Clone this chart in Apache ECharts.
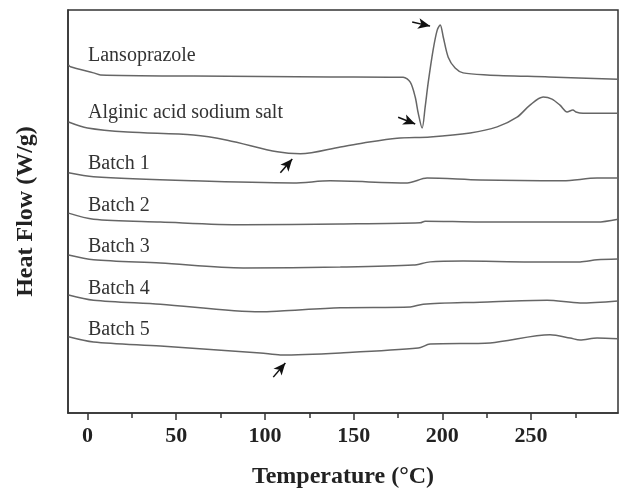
<!DOCTYPE html>
<html>
<head>
<meta charset="utf-8">
<script src="https://cdn.jsdelivr.net/npm/echarts@6/dist/echarts.min.js"></script>
<style>
  html, body { margin: 0; padding: 0; background: #fff; }
  #main { width: 623px; height: 496px; }
</style>
</head>
<body>
<div id="main"></div>
<script>
// x range and ticks
const tempMin = -11, tempMax = 299;
const majorTicks = [0, 50, 100, 150, 200, 250];
const minorTicks = [25, 75, 125, 175, 225, 275];

const curveNames = ['Lansoprazole', 'Alginic acid sodium salt', 'Batch 1', 'Batch 2', 'Batch 3', 'Batch 4', 'Batch 5'];

// [temperature, heat flow (offset, arb. units)]
const lansoprazole = [[-10.7,86.4],[-9.6,85.9],[3.4,84.4],[7.3,83.9],[60,83.6],[136.8,83.4],[177.9,83.3],[181.9,82.1],[184.7,78.4],[186.4,74.4],[188.6,70.7],[190.3,75.9],[192,81.9],[194.8,90.1],[197.1,95.0],[198.8,96.3],[200.5,93.3],[203.3,88.3],[207.2,85.6],[211.7,84.4],[225.2,83.9],[260,83.4],[299,82.8]];
const alginic = [[-10.7,72.2],[0,70.7],[22.5,69.7],[59.7,69.0],[78.8,67.7],[107,64.8],[120,64.3],[142.5,66.0],[155.4,67.0],[174.5,68.2],[193.1,68.5],[215.7,69.5],[230.9,71.0],[242.1,73.4],[249.4,76.4],[256.8,78.4],[261.8,77.9],[266.3,76.4],[270.3,74.7],[273.6,75.2],[275.3,74.7],[279.3,74.4],[299,74.4]];
const batch1 = [[-10.7,59.6],[3.4,58.6],[59.7,57.6],[116,57.1],[136.8,57.6],[180.2,57.1],[191.4,58.3],[221.3,57.8],[268,57.6],[287.2,58.3],[299,58.3]];
const batch2 = [[-10.7,49.6],[3.4,48.1],[41.1,47.4],[87.8,46.7],[142.5,46.9],[187.5,47.2],[190.3,47.6],[221.3,47.4],[287.2,47.4],[299,48.1]];
const batch3 = [[-10.7,39.2],[3.4,38.0],[41.1,37.2],[87.8,36.0],[142.5,36.2],[183.6,36.7],[193.1,37.5],[211.7,37.7],[249.4,37.5],[277.6,37.5],[287.2,38.0],[299,38.2]];
const batch4 = [[-10.7,29.3],[3.4,28.0],[41.1,27.0],[97.4,25.1],[108.7,25.3],[142.5,26.1],[181.9,26.3],[189.2,27.0],[221.3,27.5],[259,28.0],[277.6,27.3],[299,27.8]];
const batch5 = [[-10.7,18.9],[3.4,17.6],[41.1,16.6],[97.4,14.9],[108.7,14.4],[142.5,14.9],[186.4,16.1],[193.1,17.1],[226.9,17.4],[260.7,19.4],[272,18.6],[277.6,18.1],[287.2,18.6],[299,18.4]];
const curves = [lansoprazole, alginic, batch1, batch2, batch3, batch4, batch5];

// arrows pointing at thermal events: [from, to]
const arrows = [
  [[183, 97.0], [193.1, 96.0]],
  [[175.1, 73.4], [184.7, 71.7]],
  [[108.7, 59.6], [115.4, 63.0]],
  [[104.7, 8.9], [111.5, 12.4]]
];

const serif = '"Liberation Serif", "Times New Roman", serif';
const lineColor = '#666';
const labelY = [55, 112, 163, 205, 246, 288, 329];

const myChart = echarts.init(document.getElementById('main'));

const series = curves.map((d, i) => ({
  name: curveNames[i],
  type: 'line',
  data: d,
  showSymbol: false,
  smooth: 0.3,
  lineStyle: { color: lineColor, width: 1.5 },
  silent: true
}));
series.push({
  type: 'line',
  data: [],
  markLine: {
    silent: true,
    symbol: ['none', 'arrow'],
    symbolSize: [8, 12],
    label: { show: false },
    lineStyle: { color: '#111', width: 1.5, type: 'solid' },
    data: arrows.map(a => [{ coord: a[0] }, { coord: a[1] }])
  }
});

const option = {
  animation: false,
  backgroundColor: '#fff',
  grid: { left: 68, right: 5, top: 10, bottom: 83, show: true, borderColor: '#333', borderWidth: 1.5, backgroundColor: 'transparent' },
  xAxis: [{
    type: 'value', min: tempMin, max: tempMax, position: 'bottom',
    name: 'Temperature (\u00B0C)', nameLocation: 'middle', nameGap: 52,
    nameTextStyle: { fontFamily: serif, fontWeight: 'bold', fontSize: 24, color: '#222' },
    axisLine: { show: true, onZero: false, lineStyle: { color: '#333', width: 1.5 } },
    axisTick: { show: true, inside: false, length: 7, customValues: majorTicks, lineStyle: { color: '#333', width: 1.5 } },
    axisLabel: { show: true, customValues: majorTicks, margin: 12, fontFamily: serif, fontWeight: 'bold', fontSize: 22, color: '#222' },
    splitLine: { show: false }
  }, {
    type: 'value', min: tempMin, max: tempMax, position: 'bottom', offset: 0,
    axisLine: { show: false, onZero: false },
    axisTick: { show: true, length: 5, customValues: minorTicks, lineStyle: { color: '#333', width: 1.5 } },
    axisLabel: { show: false },
    splitLine: { show: false }
  }],
  yAxis: {
    type: 'value', min: 0, max: 100,
    name: 'Heat Flow (W/g)', nameLocation: 'middle', nameGap: 30,
    nameTextStyle: { fontFamily: serif, fontWeight: 'bold', fontSize: 24, color: '#222' },
    axisLine: { show: true, onZero: false, lineStyle: { color: '#333', width: 1.5 } },
    axisTick: { show: false },
    axisLabel: { show: false },
    splitLine: { show: false }
  },
  graphic: curveNames.map((n, i) => ({
    type: 'text',
    left: 88,
    top: labelY[i] - 9,
    silent: true,
    style: { text: n, font: '20px ' + serif, fill: '#333' }
  })),
  series: series
};
myChart.setOption(option);
</script>
</body>
</html>
